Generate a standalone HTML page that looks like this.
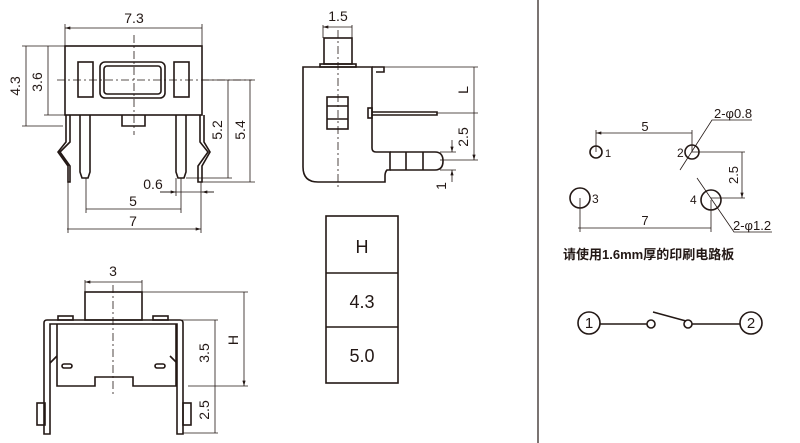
<!DOCTYPE html>
<html><head><meta charset="utf-8"><style>
html,body{margin:0;padding:0;background:#fff;width:800px;height:443px;overflow:hidden}
svg{display:block}
text{font-family:"Liberation Sans","Noto Sans CJK SC",sans-serif;fill:#231815}
</style></head><body>
<svg width="800" height="443" viewBox="0 0 800 443" xmlns="http://www.w3.org/2000/svg">
<defs>
<marker id="a" viewBox="0 0 10 6" refX="10" refY="3" markerWidth="8" markerHeight="4" orient="auto-start-reverse"><path d="M0,0L10,3L0,6z" fill="#231815"/></marker>
</defs>
<g stroke="#231815" fill="none" stroke-width="1.6">
<rect x="65" y="46" width="137" height="69"/>
<rect x="100" y="62" width="65" height="36" rx="5"/>
<rect x="104" y="66" width="57" height="28" rx="3"/>
<rect x="78" y="62" width="15" height="35"/>
<rect x="174" y="62" width="15" height="35"/>
<path d="M122,115V126H145V115"/>
<path d="M66,115V142L58,152L68,166V182H70V166L60,152L70,142V115"/>
<path d="M80,115V172L82,178H88L90,172V115"/>
<path d="M176,115V172L178,178H184L186,172V115"/>
<path d="M200,115V142L208,152L198,166V182H202V166L210,152L204,142V115"/>
<rect x="324" y="38" width="28" height="26"/>
<rect x="320" y="64" width="36" height="3"/>
<path d="M303,67H372V148Q372,152 376,152H390V170H387Q385,172 385,176V182H318Q303,182 303,167Z"/>
<path d="M372,67H384V72H376"/>
<rect x="327" y="97" width="21" height="32"/>
<path d="M327,106H348M327,119H348"/>
<rect x="368" y="108" width="4" height="10"/>
<path d="M372,112H437V115H372"/>
<path d="M390,152H435Q443,152 443,161Q443,170 435,170H390M406,152V170M423,152V170"/>
<rect x="85" y="292" width="57" height="28"/>
<path d="M44,434V323Q44,320 47,320H180Q183,320 183,323V434H177V324H50V434Z"/>
<path d="M57,324V386H95V377H133V386H176V324"/>
<rect x="58" y="316" width="15" height="4"/><rect x="153" y="316" width="15" height="4"/>
<rect x="62" y="364" width="10" height="4" rx="2"/><rect x="155" y="364" width="10" height="4" rx="2"/>
<path d="M50,363L57,356M177,363L170,356"/>
<rect x="37" y="403" width="8" height="22"/><rect x="183" y="403" width="8" height="22"/>
<rect x="326" y="216" width="72" height="167"/>
<path d="M326,273H398M326,327H398"/>
<path d="M538,0V443" stroke-width="1.2"/>
<circle cx="596" cy="152" r="6"/><circle cx="692" cy="152" r="7"/>
<circle cx="580" cy="198" r="10"/><circle cx="711" cy="200" r="10"/>
<circle cx="589" cy="323" r="11"/><circle cx="751" cy="323" r="11"/>
<circle cx="651" cy="324" r="4"/><circle cx="688" cy="324" r="4"/>
<path d="M600,324H647M692,324H740M653,312L686,321"/>
</g>
<g stroke="#231815" fill="none" stroke-width="0.8">
<path d="M134,35V135M57,80H252" stroke-dasharray="8,3,2,3"/>
<path d="M338,30V190M113,285V395" stroke-dasharray="8,3,2,3"/>
<path d="M65,24V46M202,24V46M22,46H65M22,126H63M44,115H65"/>
<path d="M202,80H255M186,178H232M202,182H255M68,182V233M201,182V233M86,178V213M181,178V213M176,178V196"/>
<path d="M323,25V38M352,25V38M384,67H478M437,113H478M440,160H478M440,152H456M440,170H456"/>
<path d="M85,280V292M142,280V292M142,292H248M182,320H218M188,386H248M183,433H218"/>
<path d="M596,130V152M692,130V152M692,152H745M711,198H745M580,198V232M711,200V232"/>
<path d="M680,170L712,120H752M697,178L734,232H772"/>
</g>
<g stroke="#231815" stroke-width="0.8" marker-start="url(#a)" marker-end="url(#a)">
<path d="M65,28H202M26,46V126M48,46V115M228,80V178M250,80V182M86,209H181M67,229H201"/>
<path d="M323,27H352M474,67V113M474,113V160"/>
<path d="M85,282H142M215,320V386M215,386V433M244,292V386"/>
<path d="M596,133H692M578,228H711M742,152V198"/>
</g>
<g stroke="#231815" stroke-width="0.8">
<path d="M160,192H176" marker-end="url(#a)"/><path d="M214,192H202" marker-end="url(#a)"/><path d="M160,192H214"/>
<path d="M452,140V152" marker-end="url(#a)"/><path d="M452,182V170" marker-end="url(#a)"/>
</g>
<g font-size="14">
<text x="134" y="23" text-anchor="middle">7.3</text>
<text x="153" y="189" text-anchor="middle">0.6</text>
<text x="133" y="206" text-anchor="middle">5</text>
<text x="133" y="226" text-anchor="middle">7</text>
<text transform="translate(20,86) rotate(-90)" text-anchor="middle">4.3</text>
<text transform="translate(42,82) rotate(-90)" text-anchor="middle">3.6</text>
<text transform="translate(222,130) rotate(-90)" text-anchor="middle">5.2</text>
<text transform="translate(245,130) rotate(-90)" text-anchor="middle">5.4</text>
<text x="338" y="21" text-anchor="middle">1.5</text>
<text transform="translate(468,90) rotate(-90)" text-anchor="middle">L</text>
<text transform="translate(468,137) rotate(-90)" text-anchor="middle">2.5</text>
<text transform="translate(446,186) rotate(-90)" text-anchor="middle">1</text>
<text x="113" y="276" text-anchor="middle">3</text>
<text transform="translate(209,353) rotate(-90)" text-anchor="middle">3.5</text>
<text transform="translate(209,410) rotate(-90)" text-anchor="middle">2.5</text>
<text transform="translate(238,340) rotate(-90)" text-anchor="middle">H</text>
</g>
<g font-size="18" text-anchor="middle">
<text x="362" y="253">H</text><text x="362" y="308">4.3</text><text x="362" y="362">5.0</text>
</g>
<g font-size="12">
<text x="645" y="131" text-anchor="middle" font-size="13">5</text>
<text x="645" y="225" text-anchor="middle" font-size="13">7</text>
<text transform="translate(738,175) rotate(-90)" text-anchor="middle" font-size="13">2.5</text>
<text x="605" y="157" font-size="11">1</text>
<text x="677" y="157" font-size="12">2</text>
<text x="592" y="203" font-size="12">3</text>
<text x="690" y="204" font-size="12">4</text>
<text x="714" y="118" font-size="13">2-φ0.8</text>
<text x="733" y="230" font-size="13">2-φ1.2</text>
<text x="563" y="259" font-size="13" font-weight="bold">请使用1.6mm厚的印刷电路板</text>
<text x="589" y="328" text-anchor="middle" font-size="15">1</text>
<text x="751" y="328" text-anchor="middle" font-size="15">2</text>
</g>
</svg>
</body></html>
